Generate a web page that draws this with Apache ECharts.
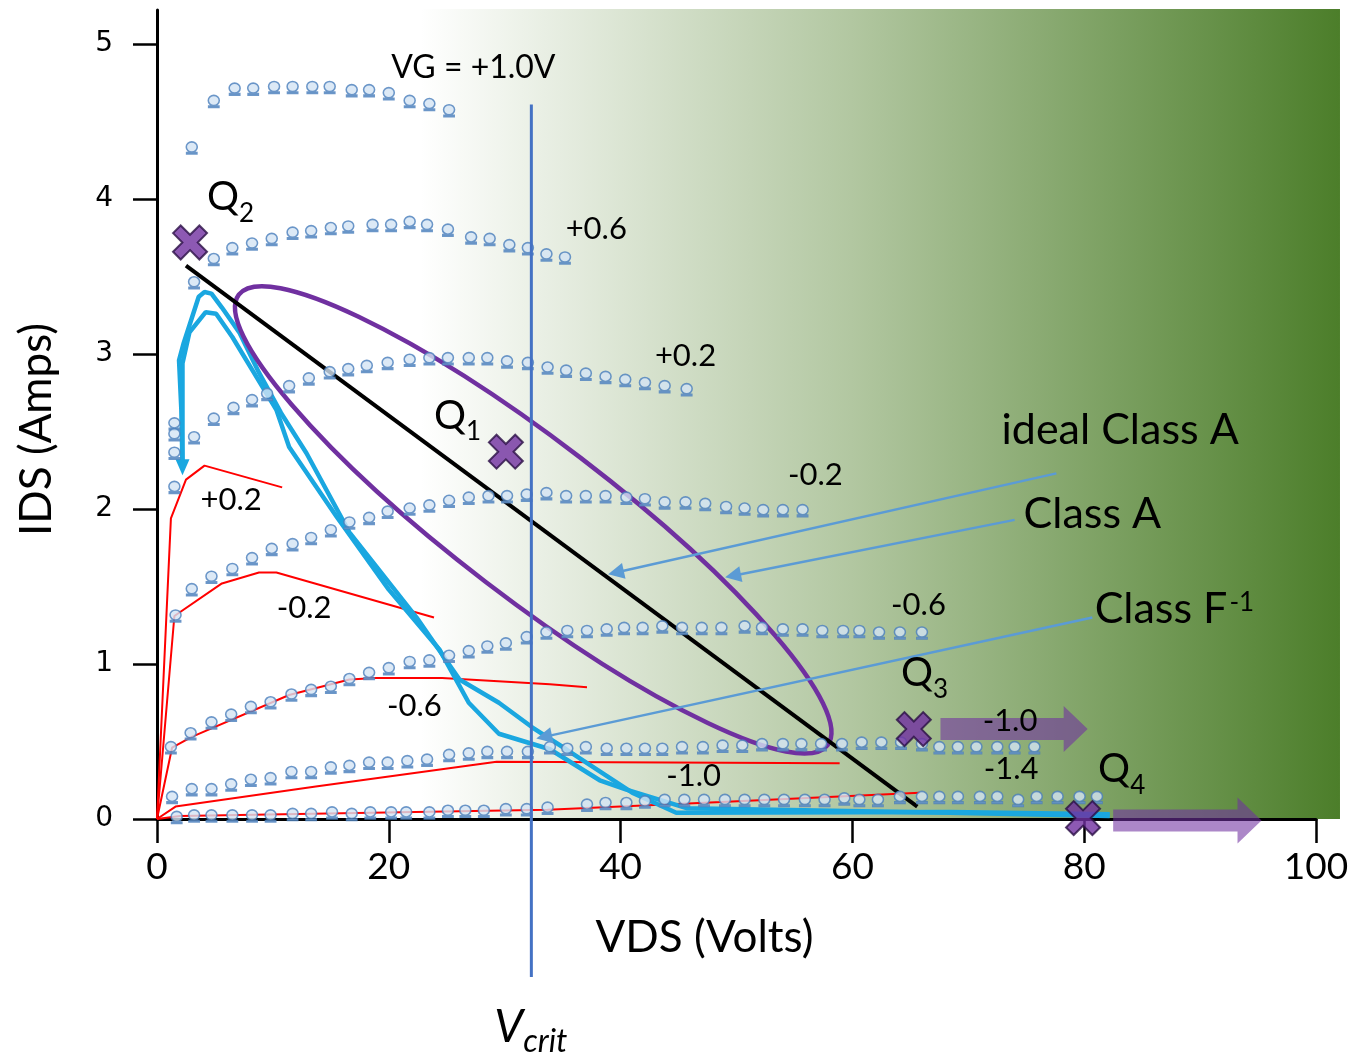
<!DOCTYPE html>
<html>
<head>
<meta charset="utf-8">
<script src="https://cdn.jsdelivr.net/npm/echarts@6/dist/echarts.min.js"></script>
<style>
html, body { margin: 0; background: #fff; }
#chart { width: 1360px; height: 1055px; }
</style>
</head>
<body>
<div id="chart"></div>
<script>
// measured IV points [VDS, IDS], one list per gate voltage
const vgP10 = [[1.5,2.55],[1.5,2.48],[3.0,4.33],[4.9,4.63],[6.7,4.71],[8.3,4.71],[10.1,4.72],[11.7,4.72],[13.4,4.72],[14.9,4.72],[16.8,4.70],[18.3,4.70],[20.0,4.68],[21.8,4.63],[23.5,4.61],[25.2,4.57]];
const vgP06 = [[1.5,2.36],[3.2,3.46],[4.9,3.61],[6.5,3.68],[8.2,3.71],[9.9,3.74],[11.7,3.78],[13.3,3.79],[15.0,3.81],[16.5,3.82],[18.6,3.83],[20.2,3.83],[21.8,3.85],[23.3,3.83],[25.1,3.80],[27.1,3.75],[28.7,3.74],[30.4,3.70],[32.0,3.68],[33.6,3.64],[35.2,3.62]];
const vgP02 = [[1.5,2.14],[3.2,2.46],[4.9,2.58],[6.6,2.65],[8.2,2.70],[9.5,2.74],[11.4,2.79],[13.1,2.84],[14.9,2.88],[16.5,2.90],[18.1,2.92],[19.9,2.94],[21.8,2.96],[23.5,2.97],[25.1,2.97],[26.9,2.97],[28.5,2.97],[30.2,2.95],[32.0,2.94],[33.7,2.91],[35.3,2.89],[37.0,2.87],[38.7,2.85],[40.4,2.83],[42.1,2.81],[43.8,2.79],[45.7,2.77]];
const vgM02 = [[1.6,1.31],[3.0,1.48],[4.7,1.56],[6.5,1.61],[8.2,1.68],[9.9,1.74],[11.7,1.77],[13.3,1.81],[15.0,1.86],[16.6,1.91],[18.3,1.94],[19.9,1.98],[21.8,2.00],[23.5,2.02],[25.2,2.05],[26.9,2.07],[28.6,2.08],[30.2,2.08],[31.9,2.09],[33.6,2.10],[35.3,2.08],[37.0,2.08],[38.7,2.08],[40.5,2.07],[42.1,2.06],[43.8,2.04],[45.6,2.04],[47.3,2.03],[49.1,2.01],[50.7,2.00],[52.3,1.99],[54.0,1.99],[55.7,1.99]];
const vgM06 = [[1.2,0.46],[2.9,0.55],[4.7,0.62],[6.4,0.67],[8.1,0.72],[9.8,0.75],[11.6,0.80],[13.3,0.83],[15.0,0.85],[16.6,0.90],[18.3,0.94],[20.0,0.97],[21.8,1.01],[23.5,1.02],[25.2,1.05],[26.9,1.08],[28.5,1.11],[30.1,1.13],[31.9,1.17],[33.6,1.20],[35.4,1.21],[37.1,1.21],[38.8,1.22],[40.3,1.23],[41.9,1.23],[43.6,1.24],[45.3,1.23],[47.0,1.23],[48.7,1.23],[50.7,1.24],[52.2,1.23],[54.0,1.22],[55.7,1.22],[57.4,1.21],[59.2,1.21],[60.6,1.21],[62.3,1.20],[64.1,1.20],[66.0,1.20]];
const vgM10 = [[1.3,0.14],[3.0,0.19],[4.7,0.19],[6.4,0.22],[8.1,0.25],[9.8,0.26],[11.6,0.30],[13.3,0.30],[15.0,0.33],[16.6,0.34],[18.3,0.36],[19.9,0.36],[21.6,0.37],[23.3,0.38],[25.2,0.41],[26.9,0.42],[28.5,0.43],[30.2,0.43],[32.0,0.43],[33.9,0.46],[35.4,0.45],[37.0,0.46],[38.8,0.45],[40.5,0.45],[42.1,0.45],[43.6,0.45],[45.3,0.46],[47.1,0.46],[48.8,0.47],[50.5,0.47],[52.2,0.48],[54.0,0.48],[55.6,0.48],[57.3,0.48],[59.1,0.48],[60.8,0.49],[62.5,0.49],[64.2,0.49],[66.0,0.48],[67.5,0.46],[69.1,0.46],[70.7,0.46],[72.5,0.46],[74.0,0.46],[75.7,0.46]];
const vgM14 = [[1.7,0.01],[3.2,0.02],[4.7,0.02],[6.5,0.02],[8.2,0.02],[9.8,0.02],[11.7,0.03],[13.3,0.03],[15.1,0.04],[16.8,0.03],[18.4,0.04],[20.2,0.04],[21.5,0.04],[23.5,0.04],[25.1,0.05],[26.6,0.05],[28.2,0.05],[30.1,0.06],[31.9,0.06],[33.7,0.07],[37.1,0.09],[38.7,0.10],[40.5,0.10],[42.1,0.11],[43.8,0.12],[45.5,0.12],[47.2,0.12],[49.0,0.12],[50.7,0.12],[52.4,0.12],[54.1,0.12],[55.9,0.12],[57.6,0.12],[59.3,0.13],[60.6,0.12],[62.2,0.12],[64.1,0.14],[66.0,0.14],[67.5,0.14],[69.1,0.14],[71.0,0.14],[72.5,0.14],[74.3,0.12],[75.9,0.14],[77.7,0.14],[79.6,0.14],[81.1,0.14]];

// model curves (red)
const modelP02 = [[0,0],[1.2,1.94],[2.5,2.19],[4.1,2.28],[10.8,2.14]];
const modelM02 = [[0,0],[1.5,1.31],[5.6,1.52],[8.8,1.59],[10.3,1.59],[23.9,1.30]];
const modelM06 = [[0,0],[1.3,0.46],[3.0,0.53],[11.4,0.80],[16.6,0.90],[18.9,0.91],[24.6,0.91],[33.9,0.87],[37.1,0.85]];
const modelM10 = [[0,0],[1.6,0.08],[13.7,0.21],[29.3,0.37],[58.9,0.36]];
const modelM14 = [[0,0],[2.0,0.02],[33.7,0.06],[48.7,0.11],[65.8,0.17]];

// dynamic load lines (cyan)
const waveOuter = [[2.2,2.27],[2.1,2.64],[1.9,2.96],[2.3,3.07],[3.6,3.37],[4.1,3.40],[4.7,3.39],[5.6,3.30],[7.1,3.14],[8.8,2.88],[10.7,2.62],[12.9,2.36],[16.6,1.85],[22.4,1.30],[26.1,0.90],[29.5,0.75],[32.4,0.59],[35.3,0.45],[41.0,0.17],[44.8,0.04],[68.4,0.045],[82.2,0.03]];
const waveInner = [[2.2,2.27],[2.2,2.94],[2.8,3.14],[4.2,3.27],[5.1,3.26],[6.5,3.11],[8.2,2.90],[10.3,2.64],[11.4,2.40],[15.5,1.95],[20.0,1.48],[24.4,1.09],[26.9,0.75],[29.5,0.55],[33.9,0.45],[38.2,0.25],[40.5,0.19],[45.7,0.07],[68.4,0.04],[82.2,0.02]];

const loadLine = [[2.5,3.57],[65.6,0.08]];
const vcritLine = [[32.3,4.61],[32.3,-1.02]];
// ellipse: centre, end of major axis, end of minor axis
const classAEllipse = [[32.46,1.93,57.86,0.477,36.56,2.33]];
const qPoints = [[30.1,2.37],[2.85,3.72],[65.3,0.58],[79.9,0.006]];
const qLabels = [['1',23.9,2.60],['2',4.32,4.01],['3',64.2,0.94],['4',81.2,0.32]];

const pointerLines = [[[77.6,2.23],[39.6,1.59]],[[74.0,1.93],[49.7,1.57]],[[80.7,1.30],[33.4,0.53]]];
const shiftArrows = [[67.6,80.3,0.58],[82.5,95.3,-0.01]];
const bgArea = [[1.64,5.226,102.07,0]];

const curveLabels = [['VG = +1.0V',27.3,4.85],['+0.6',37.9,3.81],['+0.2',45.6,2.99],['-0.2',56.8,2.22],['-0.6',65.7,1.38],['-1.0',73.6,0.63],['-1.4',73.7,0.32],['+0.2',6.4,2.06],['-0.2',12.7,1.36],['-0.6',22.2,0.73],['-1.0',46.3,0.28]];
const calloutLabels = [['ideal Class A',83.1,2.51],['Class A',80.7,1.97]];
const classFLabel = ['Class F','-1',80.9,1.355];
const vcritLabel = ['V','crit',29.1,-1.34];

const xTicks = [0,20,40,60,80,100];
const yTicks = [0,1,2,3,4,5];

const FONT = 'Lato, "Open Sans", sans-serif';
const OMEGA = 'path://M6,0.4 A4.7,4.7 0 1,1 5.99,0.4 Z M1.6,10.2 L10.4,10.2 L10.4,11.5 L1.6,11.5 Z';
const XMARK = 'path://M0,4.5 L4.5,0 L10,5.5 L15.5,0 L20,4.5 L14.5,10 L20,15.5 L15.5,20 L10,14.5 L4.5,20 L0,15.5 L5.5,10 Z';

const chart = echarts.init(document.getElementById('chart'));

function measured(data) {
  return {type: 'scatter', data: data, symbol: OMEGA, symbolSize: [11, 12], z: 6, silent: true,
    itemStyle: {color: '#d3e4f4', borderColor: '#4a7ebb', borderWidth: 1.6}};
}
function model(data) {
  return {type: 'line', data: data, symbol: 'none', z: 3, silent: true,
    lineStyle: {color: '#ff0000', width: 2}};
}
function wave(data, arrow) {
  const d = data.map((p, i) => (i === 0 && arrow) ?
    {value: p, symbol: 'triangle', symbolRotate: 180, symbolSize: [14, 16]} : {value: p, symbol: 'none'});
  return {type: 'line', data: d, z: 4, silent: true, showAllSymbol: true,
    itemStyle: {color: '#1aa7e0'}, lineStyle: {color: '#1aa7e0', width: 4.5}};
}
function textSeries(list, makeStyle) {
  return {
    type: 'custom', z: 12, silent: true,
    data: list.map(l => [l[l.length - 2], l[l.length - 1]]),
    renderItem: function (params, api) {
      const p = api.coord([api.value(0), api.value(1)]);
      return {type: 'text', x: p[0], y: p[1], style: makeStyle(list[params.dataIndex])};
    }
  };
}

const option = {
  animation: false,
  grid: {left: 157, right: 44, top: 10, bottom: 236},
  xAxis: {
    type: 'value', min: 0, max: 100, interval: 20,
    name: 'VDS (Volts)', nameLocation: 'middle', nameGap: 97,
    nameTextStyle: {fontFamily: FONT, fontSize: 44, color: '#000', padding: [0, 64, 0, 0]},
    axisLine: {onZero: false, lineStyle: {color: '#000', width: 3}},
    axisTick: {show: true, length: 24, lineStyle: {color: '#000', width: 2.5}, customValues: xTicks},
    axisLabel: {fontFamily: FONT, fontSize: 37, color: '#000', margin: 30, customValues: xTicks},
    splitLine: {show: false}
  },
  yAxis: {
    type: 'value', min: 0, max: 5.22, interval: 1,
    name: 'IDS (Amps)', nameLocation: 'middle', nameGap: 98, nameRotate: 90,
    nameTextStyle: {fontFamily: FONT, fontSize: 44, color: '#000', padding: [0, 30, 0, 0]},
    axisLine: {onZero: false, lineStyle: {color: '#000', width: 3}},
    axisTick: {show: true, length: 24, lineStyle: {color: '#000', width: 2.5}, customValues: yTicks},
    axisLabel: {fontFamily: '"DejaVu Sans", sans-serif', fontSize: 28, color: '#000', margin: 44,
      customValues: yTicks, formatter: v => Number.isInteger(v) ? String(v) : ''},
    splitLine: {show: false}
  },
  series: [
    // background gradient
    {
      type: 'custom', z: 0, silent: true, data: bgArea,
      renderItem: function (params, api) {
        const a = api.coord([api.value(0), api.value(1)]);
        const b = api.coord([api.value(2), api.value(3)]);
        return {type: 'rect', shape: {x: a[0], y: a[1], width: b[0] - a[0], height: b[1] - a[1]},
          style: {fill: new echarts.graphic.LinearGradient(0, 0, 1, 0, [
            {offset: 0, color: '#ffffff'}, {offset: 0.21, color: '#ffffff'},
            {offset: 0.58, color: '#b2c7a1'}, {offset: 1, color: '#4c7e2a'}])}};
      }
    },
    model(modelP02), model(modelM02), model(modelM06), model(modelM10), model(modelM14),
    wave(waveInner, false), wave(waveOuter, true),
    {type: 'line', data: loadLine, symbol: 'none', z: 5, silent: true, lineStyle: {color: '#000', width: 4}},
    {
      type: 'custom', z: 5, silent: true, data: classAEllipse,
      renderItem: function (params, api) {
        const c = api.coord([api.value(0), api.value(1)]);
        const t = api.coord([api.value(2), api.value(3)]);
        const s = api.coord([api.value(4), api.value(5)]);
        const rx = Math.hypot(t[0] - c[0], t[1] - c[1]);
        const ry = Math.hypot(s[0] - c[0], s[1] - c[1]);
        const ang = Math.atan2(t[1] - c[1], t[0] - c[0]);
        return {type: 'ellipse', x: c[0], y: c[1], rotation: -ang,
          shape: {cx: 0, cy: 0, rx: rx, ry: ry},
          style: {fill: null, stroke: '#7030a0', lineWidth: 4.5}};
      }
    },
    measured(vgP10), measured(vgP06), measured(vgP02), measured(vgM02),
    measured(vgM06), measured(vgM10), measured(vgM14),
    {type: 'line', data: vcritLine, symbol: 'none', z: 7, clip: false, silent: true,
      lineStyle: {color: '#4472c4', width: 3}},
    {type: 'scatter', data: qPoints, symbol: XMARK, symbolSize: 34, z: 9, silent: true,
      itemStyle: {color: '#7030a0', borderColor: '#2b0f45', borderWidth: 2}},
    {type: 'lines', coordinateSystem: 'cartesian2d', z: 10, silent: true,
      data: pointerLines.map(c => ({coords: c})),
      symbol: ['none', 'triangle'], symbolSize: [0, 16],
      lineStyle: {color: '#5b9bd5', width: 2.5, opacity: 1}},
    {
      type: 'custom', z: 11, silent: true, data: shiftArrows,
      renderItem: function (params, api) {
        const a = api.coord([api.value(0), api.value(2)]);
        const b = api.coord([api.value(1), api.value(2)]);
        const hb = b[0] - 24;
        return {type: 'polygon', shape: {points: [
          [a[0], a[1] - 11], [hb, a[1] - 11], [hb, a[1] - 23], [b[0], a[1]],
          [hb, a[1] + 23], [hb, a[1] + 11], [a[0], a[1] + 11]]},
          style: {fill: 'rgba(112,48,160,0.58)'}};
      }
    },
    textSeries(curveLabels, l => ({text: l[0], font: (l[0].length > 5 ? '32px ' : '31px ') + FONT, fill: '#000', align: 'center', verticalAlign: 'middle'})),
    textSeries(calloutLabels, l => ({text: l[0], font: '43px ' + FONT, fill: '#000', align: 'center', verticalAlign: 'middle'})),
    textSeries([classFLabel], l => ({text: '{n|' + l[0] + '}{p|' + l[1] + '}', align: 'left', verticalAlign: 'middle',
      rich: {n: {fontFamily: FONT, fontSize: 43, fill: '#000'},
             p: {fontFamily: FONT, fontSize: 26, fill: '#000', padding: [0, 0, 12, 2]}}})),
    textSeries(qLabels, l => ({text: '{q|Q}{s|' + l[0] + '}', align: 'left', verticalAlign: 'middle',
      rich: {q: {fontFamily: FONT, fontSize: 40, fill: '#000'},
             s: {fontFamily: FONT, fontSize: 26, fill: '#000', padding: [32, 0, 0, 0]}}})),
    textSeries([vcritLabel], l => ({text: '{v|' + l[0] + '}{c|' + l[1] + '}', align: 'left', verticalAlign: 'middle',
      rich: {v: {fontFamily: FONT, fontSize: 46, fontStyle: 'italic', fill: '#000'},
             c: {fontFamily: FONT, fontSize: 32, fontStyle: 'italic', fill: '#000', padding: [30, 0, 0, 0]}}}))
  ]
};
chart.setOption(option);
</script>
</body>
</html>
